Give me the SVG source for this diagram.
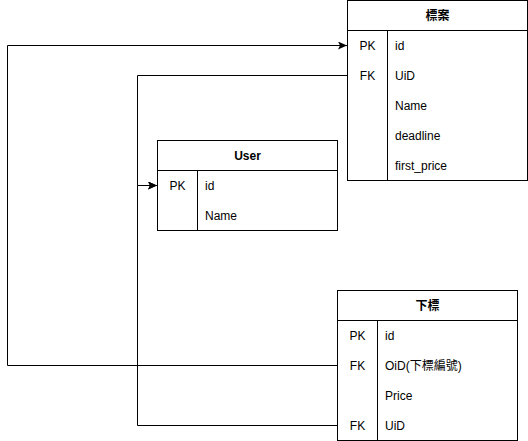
<svg xmlns="http://www.w3.org/2000/svg" width="528" height="441" viewBox="0 0 528 441">
<style>
.box{fill:#ffffff;stroke:#000000;stroke-width:1}
.ln{fill:none;stroke:#000000;stroke-width:1}
.t{font-family:"Liberation Sans",Arial,"Noto Sans CJK TC",sans-serif;font-size:12px;fill:#000000;dominant-baseline:central}
.h{font-weight:bold;text-anchor:middle}
.k{text-anchor:middle}
.e{fill:none;stroke:#000000;stroke-width:1}
</style>
<defs>
<marker id="arr" viewBox="0 0 9 8" refX="9" refY="4" markerWidth="9" markerHeight="8" markerUnits="userSpaceOnUse" orient="auto">
<path d="M0,0 L9,4 L0,8 L2,4 Z" fill="#000000"/>
</marker>
</defs>
<rect width="528" height="441" fill="#ffffff"/>
<g id="connectors">
<path class="e" d="M337.5,365.5 H7.5 V45.5 H347" marker-end="url(#arr)"/>
<path class="e" d="M347.5,75.5 H137.5 V185.5 H157" marker-end="url(#arr)"/>
<path class="e" d="M337.5,425.5 H137.5 V185.5 H157" marker-end="url(#arr)"/>
</g>
<g id="node-biaoan">
<rect class="box" x="347.5" y="0.5" width="180" height="180"/>
<line class="ln" x1="347.5" y1="30.5" x2="527.5" y2="30.5"/>
<line class="ln" x1="387.5" y1="30.5" x2="387.5" y2="180.5"/>
<text class="t h" x="437.5" y="15.5">標案</text>
<text class="t k" x="367.5" y="45.5">PK</text>
<text class="t" x="395" y="45.5">id</text>
<text class="t k" x="367.5" y="75.5">FK</text>
<text class="t" x="395" y="75.5">UiD</text>
<text class="t" x="395" y="105.5">Name</text>
<text class="t" x="395" y="135.5">deadline</text>
<text class="t" x="395" y="165.5">first_price</text>
</g>
<g id="node-user">
<rect class="box" x="157.5" y="140.5" width="180" height="90"/>
<line class="ln" x1="157.5" y1="170.5" x2="337.5" y2="170.5"/>
<line class="ln" x1="197.5" y1="170.5" x2="197.5" y2="230.5"/>
<text class="t h" x="247.5" y="155.5">User</text>
<text class="t k" x="177.5" y="185.5">PK</text>
<text class="t" x="205" y="185.5">id</text>
<text class="t" x="205" y="215.5">Name</text>
</g>
<g id="node-xiabiao">
<rect class="box" x="337.5" y="290.5" width="180" height="150"/>
<line class="ln" x1="337.5" y1="320.5" x2="517.5" y2="320.5"/>
<line class="ln" x1="377.5" y1="320.5" x2="377.5" y2="440.5"/>
<text class="t h" x="427.5" y="305.5">下標</text>
<text class="t k" x="357.5" y="335.5">PK</text>
<text class="t" x="385" y="335.5">id</text>
<text class="t k" x="357.5" y="365.5">FK</text>
<text class="t" x="385" y="365.5">OiD(下標編號)</text>
<text class="t" x="385" y="395.5">Price</text>
<text class="t k" x="357.5" y="425.5">FK</text>
<text class="t" x="385" y="425.5">UiD</text>
</g>
</svg>
